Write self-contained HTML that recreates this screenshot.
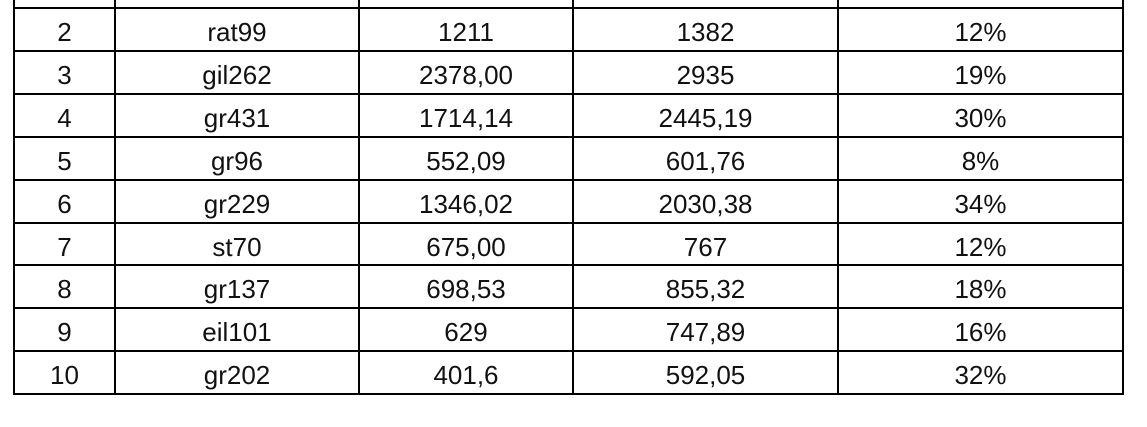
<!DOCTYPE html>
<html><head><meta charset="utf-8"><style>
html,body{margin:0;padding:0;background:#fff;width:1147px;height:427px;overflow:hidden}
#t{position:absolute;left:0;top:0;width:1147px;height:427px}
.h{position:absolute;height:2px;background:#000;left:14px;width:1110px}
.v{position:absolute;width:2px;background:#000;top:0;height:395px}
.c{position:absolute;height:43px;line-height:43px;text-align:center;font-family:"Liberation Sans",sans-serif;font-size:26px;color:#111}
</style></head><body>
<div id="t"></div>
<script>
const ids=["2","3","4","5","6","7","8","9","10"];
const names=["rat99","gil262","gr431","gr96","gr229","st70","gr137","eil101","gr202"];
const colA=["1211","2378,00","1714,14","552,09","1346,02","675,00","698,53","629","401,6"];
const colB=["1382","2935","2445,19","601,76","2030,38","767","855,32","747,89","592,05"];
const gaps=["12%","19%","30%","8%","34%","12%","18%","16%","32%"];
const t=document.getElementById('t');
const xs=[14,115,359,573,838,1123];
const top0=8,rh=42.9;
for(let i=0;i<=ids.length;i++){const d=document.createElement('div');d.className='h';d.style.top=(top0+i*rh-1)+'px';


t.appendChild(d);}
xs.forEach(x=>{const d=document.createElement('div');d.className='v';d.style.left=(x-1)+'px';


t.appendChild(d);});
const cols=[ids,names,colA,colB,gaps];
const cn=['row-number','instance-name','value-a','value-b','gap-percent'];
for(let r=0;r<ids.length;r++){for(let c=0;c<5;c++){const d=document.createElement('div');d.className='c';
d.style.left=xs[c]+'px';d.style.width=(xs[c+1]-xs[c])+'px';d.style.top=(top0+r*rh+3)+'px';d.textContent=cols[c][r];


t.appendChild(d);}}
</script>
</body></html>
